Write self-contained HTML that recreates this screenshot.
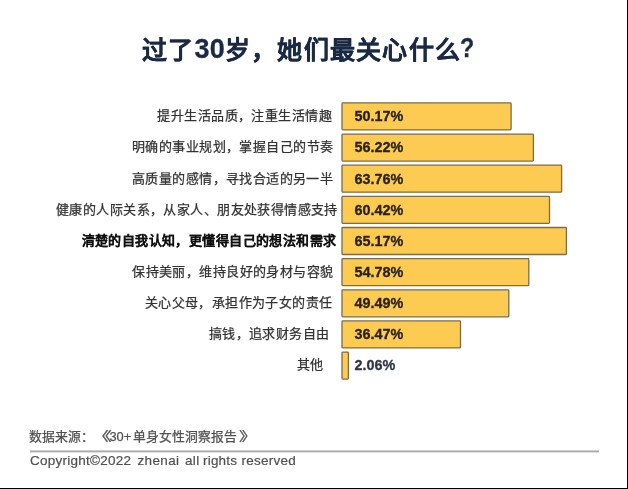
<!DOCTYPE html>
<html lang="zh-CN">
<head>
<meta charset="utf-8">
<style>
html,body{margin:0;padding:0;}
body{width:628px;height:489px;position:relative;overflow:hidden;background:#fff;font-family:"Liberation Sans",sans-serif;text-spacing-trim:space-all;}
.wrap{position:absolute;left:0;top:0;width:628px;height:489px;filter:blur(0.6px);}
.title{position:absolute;left:142px;top:30.5px;font-size:25px;letter-spacing:1.3px;font-weight:bold;color:#1b2a44;-webkit-text-stroke:0.3px #1b2a44;white-space:nowrap;line-height:38px;}
.tl{font-size:27px;letter-spacing:0;position:relative;top:-0.5px;}
.tl.q{margin-left:-1px;font-size:28px;display:inline-block;transform:scaleX(0.83);transform-origin:0 0;top:-1.5px;}
.lbl{position:absolute;right:296px;font-size:13px;letter-spacing:0.42px;color:#333;-webkit-text-stroke:0.25px #333;white-space:nowrap;line-height:28px;height:28px;}
.lbl.b{font-weight:bold;color:#111;-webkit-text-stroke:0.1px #111;}
.bars{position:absolute;left:0;top:0;}
.pct{position:absolute;left:354.5px;font-size:14.4px;font-weight:bold;color:#29231a;-webkit-text-stroke:0.3px #29231a;line-height:28px;height:28px;white-space:nowrap;}
.pct.o{color:#2b3849;-webkit-text-stroke:0.3px #2b3849;}
.src{position:absolute;left:30px;top:427.4px;font-size:12.8px;color:#505050;-webkit-text-stroke:0.25px #505050;white-space:nowrap;line-height:20px;}
.src span{position:absolute;top:0;}
.hr{position:absolute;left:29.5px;top:450px;width:569.5px;height:3px;background:linear-gradient(#cdcdcd 0,#cdcdcd 1px,#adadad 1px,#adadad 2px,#dedede 2px,#dedede 3px);}
.copy{position:absolute;left:30px;top:451.7px;font-size:13.5px;letter-spacing:0.35px;color:#505050;-webkit-text-stroke:0.2px #505050;white-space:nowrap;line-height:18px;}
.copy span{position:absolute;top:0;}
.rb{position:absolute;left:627px;top:0;width:1px;height:489px;background:#000;}
.bb{position:absolute;left:0;top:488px;width:628px;height:1px;background:#000;}
</style>
</head>
<body><div class="wrap">
<div class="title">过了<span class="tl">30</span>岁，她们最关心什么<span class="tl q">?</span></div>

<div class="lbl" style="top:102.20px;right:296.05px">提升生活品质，注重生活情趣</div>
<div class="lbl" style="top:133.35px;right:294.65px">明确的事业规划，掌握自己的节奏</div>
<div class="lbl" style="top:164.50px;right:294.70px">高质量的感情，寻找合适的另一半</div>
<div class="lbl" style="top:195.65px;right:290.10px">健康的人际关系，从家人、朋友处获得情感支持</div>
<div class="lbl b" style="top:226.80px;right:291.50px">清楚的自我认知，更懂得自己的想法和需求</div>
<div class="lbl" style="top:257.95px;right:294.50px">保持美丽，维持良好的身材与容貌</div>
<div class="lbl" style="top:289.10px;right:295.40px">关心父母，承担作为子女的责任</div>
<div class="lbl" style="top:320.25px;right:298.55px">搞钱，追求财务自由</div>
<div class="lbl" style="top:351.40px;right:304.2px">其他</div>


<svg class="bars" width="628" height="489" viewBox="0 0 628 489">
<g fill="#fdca52" stroke="#7d6c48" stroke-width="1.3">
<rect x="342" y="102.90" width="169.10" height="27" rx="0.8"/>
<rect x="342" y="134.05" width="191.40" height="27" rx="0.8"/>
<rect x="342" y="165.20" width="219.60" height="27" rx="0.8"/>
<rect x="342" y="196.35" width="207.50" height="27" rx="0.8"/>
<rect x="342" y="227.50" width="224.40" height="27" rx="0.8"/>
<rect x="342" y="258.65" width="186.80" height="27" rx="0.8"/>
<rect x="342" y="289.80" width="166.80" height="27" rx="0.8"/>
<rect x="342" y="320.95" width="118.50" height="27" rx="0.8"/>
<rect x="342" y="352.10" width="6.40" height="27" rx="0.8"/>
</g></svg>
<div class="pct" style="top:102.20px">50.17%</div>
<div class="pct" style="top:133.35px">56.22%</div>
<div class="pct" style="top:164.50px">63.76%</div>
<div class="pct" style="top:195.65px">60.42%</div>
<div class="pct" style="top:226.80px">65.17%</div>
<div class="pct" style="top:257.95px">54.78%</div>
<div class="pct" style="top:289.10px">49.49%</div>
<div class="pct" style="top:320.25px">36.47%</div>
<div class="pct o" style="top:351.40px">2.06%</div>

<div class="src"><span style="left:-0.9px;letter-spacing:-0.1px">数据来源：</span><span style="left:65.6px;transform:scaleX(1.55);transform-origin:7.4px 50%">《</span><span style="left:79.5px">30+</span><span style="left:102.7px;letter-spacing:0.1px">单身女性洞察报告</span><span style="left:208.8px;transform:scaleX(1.4);transform-origin:0 50%">》</span></div>
<div class="hr"></div>
<div class="copy"><span style="left:0;letter-spacing:0.25px">Copyright©2022</span><span style="left:107.5px">zhenai</span><span style="left:155px">all</span><span style="left:173px;letter-spacing:0.2px">rights</span><span style="left:211.4px;letter-spacing:0.25px">reserved</span></div>
</div>
<div class="rb"></div>
<div class="bb"></div>
</body>
</html>
